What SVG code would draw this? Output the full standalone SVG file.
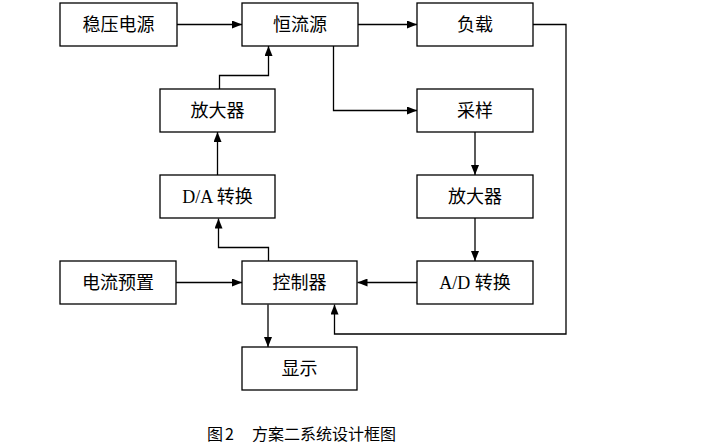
<svg xmlns="http://www.w3.org/2000/svg" width="714" height="446" viewBox="0 0 714 446">
<style>
.box{fill:#fff;stroke:#000;stroke-width:1.3}
.lbl{font-family:"Liberation Serif","Noto Sans CJK SC",serif;font-size:18px;fill:#000;text-anchor:middle}
.cn{font-family:"Noto Sans CJK SC",sans-serif;font-size:18px;fill:#000;text-anchor:middle}
.con{fill:none;stroke:#000;stroke-width:1.3}
.cap{font-family:"Noto Sans CJK SC",sans-serif;font-size:16px;fill:#000}
</style>
<defs>
<marker id="ah" markerWidth="10" markerHeight="8" refX="10" refY="4" orient="auto" markerUnits="userSpaceOnUse">
<path d="M0,0 L10,4 L0,8 Z" fill="#000"/>
</marker>
</defs>
<rect width="714" height="446" fill="#fff"/>
<g id="connectors">
<path class="con" d="M177,24.5 H242" marker-end="url(#ah)"/>
<path class="con" d="M358,24.5 H417" marker-end="url(#ah)"/>
<path class="con" d="M333.5,46 V110.5 H417" marker-end="url(#ah)"/>
<path class="con" d="M533,24.5 H566 V334 H334.5 V304.5" marker-end="url(#ah)"/>
<path class="con" d="M219.5,89 V75.5 H268.5 V46" marker-end="url(#ah)"/>
<path class="con" d="M217.5,175 V132" marker-end="url(#ah)"/>
<path class="con" d="M268.5,261 V247.5 H218.5 V218.5" marker-end="url(#ah)"/>
<path class="con" d="M475,132 V175" marker-end="url(#ah)"/>
<path class="con" d="M475,218 V261" marker-end="url(#ah)"/>
<path class="con" d="M417,282.5 H357.5" marker-end="url(#ah)"/>
<path class="con" d="M176,282.5 H242" marker-end="url(#ah)"/>
<path class="con" d="M268,304.5 V347" marker-end="url(#ah)"/>
</g>
<g id="n1"><rect class="box" x="60" y="3" width="117" height="43"/><text class="cn" x="118.5" y="31">稳压电源</text></g>
<g id="n2"><rect class="box" x="242" y="3" width="116" height="43"/><text class="cn" x="300" y="31">恒流源</text></g>
<g id="n3"><rect class="box" x="417" y="3" width="116" height="43"/><text class="cn" x="475" y="31">负载</text></g>
<g id="n4"><rect class="box" x="417" y="89" width="116" height="43"/><text class="cn" x="475" y="117">采样</text></g>
<g id="n5"><rect class="box" x="160" y="89" width="115" height="43"/><text class="cn" x="217.5" y="117">放大器</text></g>
<g id="n6"><rect class="box" x="160" y="175" width="115" height="43"/><text class="lbl" x="217.5" y="203">D/A 转换</text></g>
<g id="n7"><rect class="box" x="417" y="175" width="116" height="43"/><text class="cn" x="475" y="203">放大器</text></g>
<g id="n8"><rect class="box" x="60" y="261" width="116" height="43"/><text class="cn" x="118" y="289">电流预置</text></g>
<g id="n9"><rect class="box" x="242" y="261" width="115" height="43"/><text class="cn" x="299.5" y="289">控制器</text></g>
<g id="n10"><rect class="box" x="417" y="261" width="116" height="43"/><text class="lbl" x="475" y="289">A/D 转换</text></g>
<g id="n11"><rect class="box" x="242" y="347" width="115" height="43"/><text class="cn" x="299.5" y="375">显示</text></g>
<text class="cap" x="207" y="440">图<tspan x="225">2</tspan><tspan x="252">方案二系统设计框图</tspan></text>
</svg>
